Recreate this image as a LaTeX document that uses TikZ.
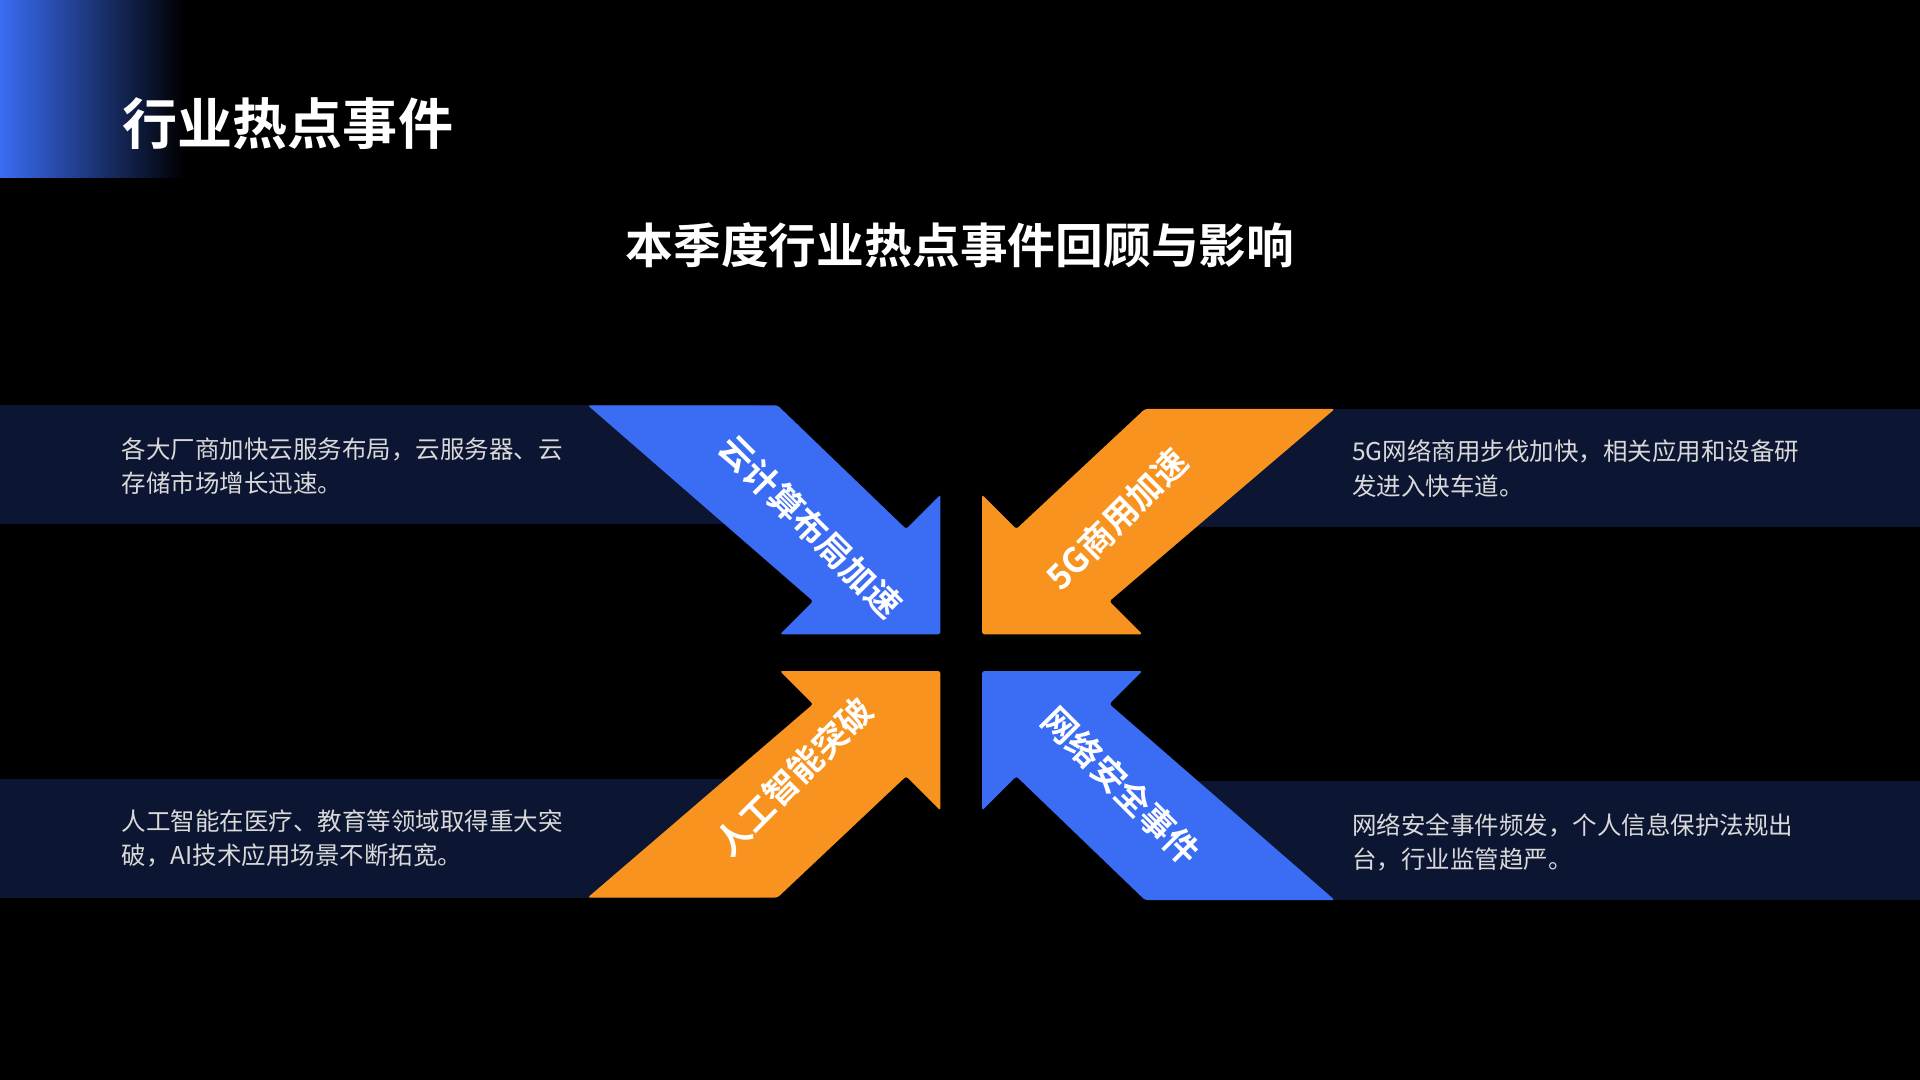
\documentclass[tikz,border=0pt]{standalone}
\usepackage{fontspec}
\newfontfamily\cjk{Noto Sans CJK SC}
\newfontfamily\cjkb{Noto Sans CJK SC Bold}
\begin{document}
\begin{tikzpicture}[x=0.5pt,y=-0.5pt,
  band/.style={fill=bandc,draw=none},
  arrlbl/.style={text=white,font=\cjkb\fontsize{14}{14}\selectfont},
  desc/.style={text=white!85!black,font=\cjk\fontsize{10}{14}\selectfont,align=left,anchor=north west,inner sep=0pt}]
\definecolor{bandc}{HTML}{0C1632}
\definecolor{bl}{HTML}{3A6CF4}
\definecolor{orc}{HTML}{F7931E}
\fill[black] (0,0) rectangle (1568,882);
\useasboundingbox (0,0) rectangle (1568,882);
\shade[left color=bl, right color=black] (0,0) rectangle (150,145);
\node[anchor=west,text=white,font=\cjkb\fontsize{22.5}{22.5}\selectfont] (title) at (93,101) {行业热点事件};
\node[text=white,font=\cjkb\fontsize{19.5}{19.5}\selectfont] (sub) at (784,200) {本季度行业热点事件回顾与影响};
\fill[band] (0,331) rectangle (620,428);
\fill[band] (960,334) rectangle (1568,430);
\fill[band] (0,636) rectangle (620,733);
\fill[band] (960,638) rectangle (1568,735);
\fill[bl,rounded corners=1pt] (480,331)--(635,331)--(740,432)--(768,404)--(768,518)--(637,518)--(664,491)--cycle;
\fill[orc,rounded corners=1pt] (1090,334)--(935,334)--(830,432)--(802,404)--(802,518)--(933,518)--(906,491)--cycle;
\fill[orc,rounded corners=1pt] (480,733)--(635,733)--(740,634)--(768,662)--(768,548)--(637,548)--(664,575)--cycle;
\fill[bl,rounded corners=1pt] (1090,735)--(935,735)--(830,634)--(802,662)--(802,548)--(933,548)--(906,575)--cycle;
\node[arrlbl,rotate=-45] (a1) at (662,430) {云计算布局加速};
\node[arrlbl,rotate=45] (a2) at (912,424) {5G商用加速};
\node[arrlbl,rotate=45] (a3) at (648,634) {人工智能突破};
\node[arrlbl,rotate=-45] (a4) at (916,642) {网络安全事件};
\node[desc] (d1) at (99,357) {各大厂商加快云服务布局，云服务器、云\\存储市场增长迅速。};
\node[desc] (d2) at (1104,359) {5G网络商用步伐加快，相关应用和设备研\\发进入快车道。};
\node[desc] (d3) at (99,661) {人工智能在医疗、教育等领域取得重大突\\破，AI技术应用场景不断拓宽。};
\node[desc] (d4) at (1104,664) {网络安全事件频发，个人信息保护法规出\\台，行业监管趋严。};
\end{tikzpicture}
\end{document}
